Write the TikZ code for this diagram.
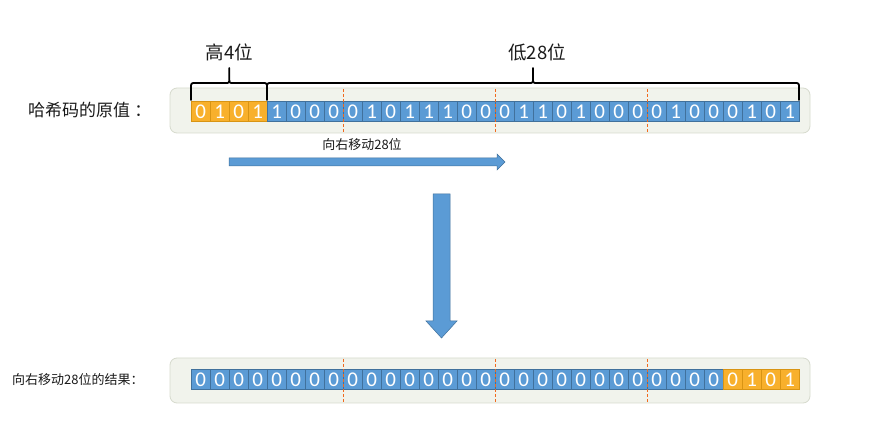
\documentclass[tikz,border=0pt]{standalone}
\usepackage{fontspec}
\setmainfont{Carlito}
\newfontfamily\cjk{Noto Sans CJK SC}
\definecolor{cellblue}{HTML}{5B9BD5}
\definecolor{cellblueline}{HTML}{41719C}
\definecolor{cellgold}{HTML}{F8B02C}
\definecolor{cellgoldline}{HTML}{D89414}
\definecolor{bgfill}{HTML}{F1F3EC}
\definecolor{bgline}{HTML}{D6DACD}
\definecolor{orangedash}{RGB}{240,106,30}
\definecolor{txt}{HTML}{1A1A1A}
\begin{document}
\begin{tikzpicture}[x=1pt,y=-1pt,
  bitcell/.style={minimum width=19pt,minimum height=20pt,inner sep=0pt,anchor=north west,
    text=white,font=\fontsize{21}{21}\selectfont,line width=0.6pt},
  bluecell/.style={bitcell,fill=cellblue,draw=cellblueline},
  goldcell/.style={bitcell,fill=cellgold,draw=cellgoldline},
  bgbox/.style={fill=bgfill,draw=bgline,line width=0.8pt,rounded corners=7pt,
    minimum width=640pt,minimum height=45pt,inner sep=0pt},
  sepseg/.style={draw=orangedash,line width=1pt},
  bracepath/.style={draw=black,line width=1.8pt,line join=round,line cap=round},
  blockarrow/.style={fill=cellblue,draw=cellblueline,line width=0.5pt},
  lab/.style={text=txt,inner sep=0pt}]
\useasboundingbox (0,0) rectangle (871,446);
% backgrounds
\node[bgbox] (bg1) at (490,110.5) {};
\node[bgbox] (bg2) at (490,380.5) {};
% top cells
\foreach \b [count=\i] in {0,1,0,1,1,0,0,0,0,1,0,1,1,1,0,0,0,1,1,0,1,0,0,0,0,1,0,0,0,1,0,1}{
  \ifnum\i<5
    \node[goldcell] (t\i) at ({191+19*(\i-1)},101) {\b};
  \else
    \node[bluecell] (t\i) at ({191+19*(\i-1)},101) {\b};
  \fi
}
% bottom cells
\foreach \b [count=\i] in {0,0,0,0,0,0,0,0,0,0,0,0,0,0,0,0,0,0,0,0,0,0,0,0,0,0,0,0,0,1,0,1}{
  \ifnum\i>28
    \node[goldcell] (u\i) at ({191+19*(\i-1)},369) {\b};
  \else
    \node[bluecell] (u\i) at ({191+19*(\i-1)},369) {\b};
  \fi
}
% dashed separators (drawn as short segments)
\foreach \k in {8,16,24}{
  \foreach \yy in {89,94,...,131}{
    \draw[sepseg] (t\k.east |- 0,\yy) -- (t\k.east |- 0,{\yy+3});
  }
  \foreach \yy in {359,364,...,401}{
    \draw[sepseg] (u\k.east |- 0,\yy) -- (u\k.east |- 0,{\yy+3});
  }
}
% braces
\draw[bracepath] (191,100) -- (191,88) .. controls (191,83) .. (196,83) -- (225.3,83)
  .. controls (229.3,83) .. (229.3,78) -- (229.3,68)
  (229.3,78) .. controls (229.3,83) .. (233.3,83) -- (262,83)
  .. controls (267,83) .. (267,88) -- (267,100);
\draw[bracepath] (267,88) .. controls (267,83) .. (272,83) -- (529,83)
  .. controls (533,83) .. (533,78) -- (533,68)
  (533,78) .. controls (533,83) .. (537,83) -- (794,83)
  .. controls (799,83) .. (799,88) -- (799,100);
% labels
\node[lab,font=\cjk\fontsize{18.5}{18.5}\selectfont] (hi) at (229.5,52) {高4位};
\node[lab,font=\cjk\fontsize{18.5}{18.5}\selectfont] (lo) at (537,52) {低28位};
\node[lab,font=\cjk\fontsize{17}{17}\selectfont,anchor=west] (orig) at (28,110) {哈希码的原值\hspace{0.25em}：};
\node[lab,font=\cjk\fontsize{13}{13}\selectfont] (shl) at (362,145) {向右移动28位};
\node[lab,font=\cjk\fontsize{13}{13}\selectfont,anchor=west] (res) at (12,380) {向右移动28位的结果：};
% horizontal block arrow
\coordinate (ha) at (229,162);
\draw[blockarrow] (ha) ++(0,-4) -- (497,158) -- (497,154) -- (505,162) -- (497,170) -- (497,166) -- ++(-268,0) -- cycle;
% down block arrow
\coordinate (da) at (441.5,194);
\draw[blockarrow] (da) ++(-8.5,0) -- (450,194) -- (450,321) -- (457,321) -- (441.5,338) -- (426,321) -- (433,321) -- cycle;
\end{tikzpicture}
\end{document}
